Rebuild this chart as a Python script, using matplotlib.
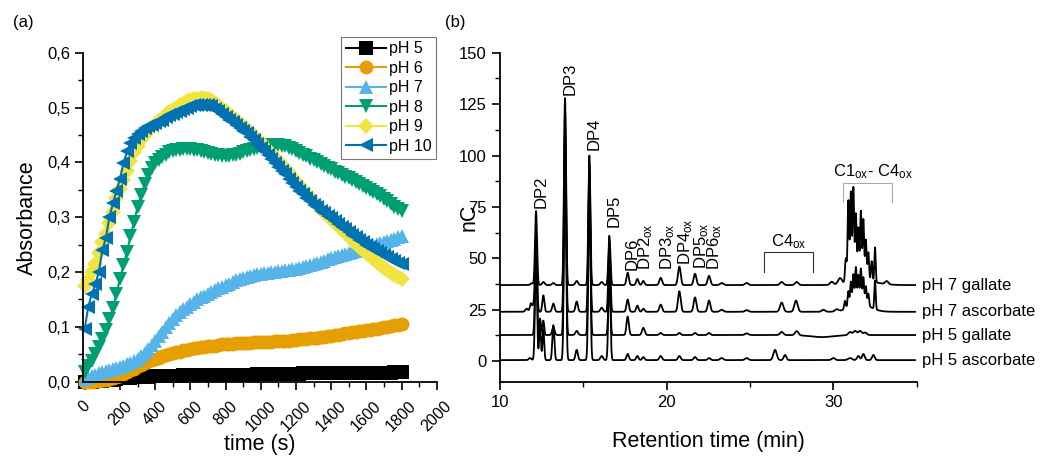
import numpy as np
import matplotlib.pyplot as plt
from matplotlib.ticker import MultipleLocator, FuncFormatter

plt.rcParams['font.family'] = ['Liberation Sans', 'DejaVu Sans']
plt.rcParams['mathtext.fontset'] = 'custom'
plt.rcParams['mathtext.rm'] = 'Liberation Sans'
plt.rcParams['mathtext.it'] = 'Liberation Sans'

# ---- panel (a): absorbance vs time, one reading every 20 s (0 .. 1800 s) ----
time_s = np.arange(0, 1801, 20)

ph5 = [0.000, 0.000, 0.000, 0.001, 0.001, 0.002, 0.003, 0.003, 0.004, 0.005,
       0.006, 0.006, 0.007, 0.007, 0.008, 0.008, 0.009, 0.009, 0.009, 0.010,
       0.010, 0.010, 0.010, 0.011, 0.011, 0.011, 0.011, 0.011, 0.012, 0.012,
       0.012, 0.012, 0.012, 0.012, 0.012, 0.012, 0.013, 0.013, 0.013, 0.013,
       0.013, 0.013, 0.013, 0.013, 0.013, 0.013, 0.013, 0.013, 0.013, 0.014,
       0.014, 0.014, 0.014, 0.014, 0.014, 0.014, 0.014, 0.014, 0.014, 0.014,
       0.014, 0.014, 0.015, 0.015, 0.015, 0.015, 0.015, 0.015, 0.015, 0.015,
       0.015, 0.015, 0.015, 0.015, 0.015, 0.016, 0.016, 0.016, 0.016, 0.016,
       0.016, 0.016, 0.016, 0.016, 0.016, 0.016, 0.016, 0.016, 0.017, 0.017,
       0.017]
ph6 = [0.000, 0.000, 0.000, 0.001, 0.002, 0.003, 0.004, 0.005, 0.007, 0.009,
       0.011, 0.014, 0.017, 0.021, 0.024, 0.028, 0.031, 0.034, 0.037, 0.040,
       0.042, 0.044, 0.046, 0.048, 0.050, 0.052, 0.054, 0.055, 0.057, 0.058,
       0.060, 0.061, 0.062, 0.063, 0.064, 0.065, 0.066, 0.066, 0.067, 0.068,
       0.068, 0.069, 0.069, 0.070, 0.070, 0.071, 0.071, 0.071, 0.072, 0.072,
       0.072, 0.073, 0.073, 0.073, 0.074, 0.074, 0.074, 0.075, 0.075, 0.076,
       0.076, 0.077, 0.078, 0.078, 0.079, 0.080, 0.080, 0.081, 0.082, 0.083,
       0.084, 0.085, 0.086, 0.087, 0.088, 0.089, 0.090, 0.091, 0.092, 0.093,
       0.094, 0.095, 0.096, 0.097, 0.098, 0.099, 0.100, 0.102, 0.103, 0.104,
       0.106]
ph7 = [0.005, 0.008, 0.011, 0.013, 0.015, 0.017, 0.019, 0.021, 0.023, 0.025,
       0.027, 0.029, 0.032, 0.035, 0.038, 0.042, 0.047, 0.053, 0.060, 0.067,
       0.075, 0.083, 0.091, 0.099, 0.107, 0.114, 0.121, 0.127, 0.132, 0.137,
       0.142, 0.146, 0.150, 0.154, 0.157, 0.160, 0.163, 0.167, 0.170, 0.173,
       0.176, 0.179, 0.182, 0.185, 0.187, 0.189, 0.191, 0.193, 0.194, 0.196,
       0.197, 0.198, 0.199, 0.200, 0.200, 0.201, 0.202, 0.203, 0.204, 0.205,
       0.206, 0.207, 0.209, 0.211, 0.213, 0.215, 0.217, 0.219, 0.221, 0.223,
       0.225, 0.227, 0.229, 0.231, 0.233, 0.235, 0.237, 0.239, 0.241, 0.243,
       0.245, 0.247, 0.249, 0.251, 0.253, 0.255, 0.257, 0.259, 0.261, 0.264,
       0.266]
ph8 = [0.018, 0.028, 0.038, 0.050, 0.063, 0.078, 0.095, 0.115, 0.135, 0.160,
       0.188, 0.212, 0.237, 0.265, 0.292, 0.318, 0.340, 0.360, 0.377, 0.390,
       0.398, 0.405, 0.410, 0.414, 0.418, 0.420, 0.422, 0.423, 0.424, 0.424,
       0.424, 0.423, 0.422, 0.421, 0.419, 0.417, 0.415, 0.414, 0.413, 0.412,
       0.412, 0.412, 0.413, 0.414, 0.416, 0.418, 0.420, 0.422, 0.424, 0.426,
       0.428, 0.429, 0.430, 0.431, 0.431, 0.431, 0.430, 0.429, 0.427, 0.424,
       0.420, 0.417, 0.414, 0.411, 0.407, 0.404, 0.400, 0.397, 0.393, 0.390,
       0.387, 0.383, 0.380, 0.377, 0.374, 0.371, 0.367, 0.364, 0.360, 0.357,
       0.353, 0.350, 0.346, 0.342, 0.338, 0.334, 0.329, 0.324, 0.319, 0.315,
       0.311]
ph9 = [0.175, 0.185, 0.200, 0.215, 0.235, 0.255, 0.270, 0.290, 0.310, 0.335,
       0.352, 0.368, 0.385, 0.402, 0.418, 0.430, 0.440, 0.450, 0.458, 0.465,
       0.470, 0.476, 0.481, 0.486, 0.491, 0.496, 0.500, 0.504, 0.507, 0.511,
       0.514, 0.515, 0.516, 0.517, 0.517, 0.516, 0.513, 0.509, 0.504, 0.498,
       0.493, 0.487, 0.482, 0.477, 0.471, 0.466, 0.461, 0.455, 0.450, 0.443,
       0.437, 0.430, 0.423, 0.417, 0.410, 0.403, 0.396, 0.390, 0.382, 0.374,
       0.366, 0.359, 0.351, 0.344, 0.337, 0.329, 0.322, 0.315, 0.308, 0.302,
       0.296, 0.290, 0.284, 0.278, 0.271, 0.265, 0.259, 0.252, 0.246, 0.240,
       0.234, 0.229, 0.223, 0.218, 0.213, 0.208, 0.203, 0.199, 0.195, 0.191,
       0.188]
ph10 = [0.097, 0.137, 0.160, 0.178, 0.200, 0.240, 0.262, 0.300, 0.325, 0.348,
        0.370, 0.398, 0.420, 0.435, 0.444, 0.452, 0.458, 0.462, 0.466, 0.469,
        0.472, 0.475, 0.478, 0.482, 0.486, 0.489, 0.491, 0.494, 0.497, 0.500,
        0.502, 0.504, 0.505, 0.505, 0.505, 0.504, 0.502, 0.498, 0.493, 0.488,
        0.483, 0.478, 0.473, 0.468, 0.463, 0.458, 0.453, 0.447, 0.440, 0.433,
        0.427, 0.420, 0.413, 0.406, 0.398, 0.391, 0.385, 0.378, 0.370, 0.362,
        0.355, 0.348, 0.342, 0.335, 0.329, 0.323, 0.318, 0.312, 0.307, 0.302,
        0.298, 0.293, 0.287, 0.283, 0.278, 0.273, 0.268, 0.264, 0.259, 0.254,
        0.250, 0.246, 0.242, 0.238, 0.234, 0.231, 0.227, 0.224, 0.220, 0.217,
        0.214]

series_labels = ['pH 5', 'pH 6', 'pH 7', 'pH 8', 'pH 9', 'pH 10']
series_colors = ['#000000', '#E69F00', '#56B4E9', '#009E73', '#F0E442', '#0072B2']
series_markers = ['s', 'o', '^', 'v', 'D', '<']

# ---- panel (b): chromatograms as peak tables (retention time, height, width) ----
g7_pos = [11.9, 12.16, 12.6, 13.2, 13.9, 14.6, 15.36, 16.1, 16.56, 17.66,
          18.24, 18.6, 19.64, 20.76, 21.7, 22.54, 23.3, 24.8, 26.9, 27.8,
          29.9, 30.4, 30.75, 30.9, 31.05, 31.2, 31.35, 31.5, 31.65, 31.8,
          31.95, 32.1, 32.3, 32.5, 33.2, 31.8]
g7_h = [0.8, 36, 1.5, 1.0, 91, 2, 63, 1.5, 24, 6,
        3, 2, 3.5, 9, 5.5, 4.5, 1, 1, 1.5, 1.5,
        1.5, 3, 12, 40, 44, 46, 33, 26, 34, 30,
        20, 14, 10, 17, 1.5, 2]
g7_w = [0.08, 0.06, 0.08, 0.08, 0.06, 0.08, 0.06, 0.08, 0.06, 0.07,
        0.07, 0.07, 0.08, 0.08, 0.08, 0.08, 0.1, 0.1, 0.1, 0.1,
        0.1, 0.12, 0.05, 0.045, 0.045, 0.045, 0.045, 0.045, 0.045, 0.045,
        0.045, 0.045, 0.045, 0.04, 0.1, 0.8]

a7_pos = [11.6, 11.85, 12.0, 12.16, 12.6, 13.2, 13.9, 14.6, 15.36, 16.1,
          16.56, 17.66, 18.24, 18.6, 19.64, 20.76, 21.7, 22.54, 23.3, 24.8,
          26.9, 27.76, 29.4, 30.2, 30.7, 30.9, 31.05, 31.2, 31.35, 31.5,
          31.65, 31.8, 31.95, 32.1, 32.5, 31.6]
a7_h = [1.5, 4, 3, 38, 8, 4, 98, 5, 72, 2,
        34, 6, 3, 1.5, 3.5, 10, 7, 5.5, 1, 0.8,
        4.5, 5.5, 1, 1, 4, 8, 12, 15, 18, 14,
        17, 13, 9, 6, 14, 4]
a7_w = [0.08, 0.06, 0.06, 0.06, 0.06, 0.07, 0.06, 0.07, 0.06, 0.08,
        0.06, 0.07, 0.07, 0.07, 0.08, 0.08, 0.08, 0.08, 0.1, 0.1,
        0.1, 0.1, 0.1, 0.1, 0.05, 0.045, 0.045, 0.045, 0.045, 0.045,
        0.045, 0.045, 0.045, 0.045, 0.04, 0.6]

g5_pos = [12.16, 12.4, 12.6, 13.2, 13.9, 14.6, 15.36, 16.56, 17.66, 18.6,
          19.64, 20.76, 21.7, 22.54, 24.8, 26.9, 27.8, 31.0, 31.3, 31.6,
          31.9, 29.3]
g5_h = [42, 8, 7, 4, 102, 2, 79, 27, 9, 3.5,
        1, 1, 1, 1, 0.8, 1.5, 2, 1.5, 2.0, 2.0,
        1.2, -1.0]
g5_w = [0.06, 0.05, 0.05, 0.07, 0.06, 0.08, 0.06, 0.06, 0.07, 0.08,
        0.08, 0.08, 0.08, 0.08, 0.1, 0.1, 0.1, 0.1, 0.1, 0.1,
        0.1, 0.7]

a5_pos = [11.8, 12.16, 12.4, 12.6, 13.2, 13.9, 14.6, 15.36, 16.1, 16.56,
          17.66, 18.24, 18.6, 19.64, 20.76, 21.7, 22.54, 23.3, 24.8, 26.5,
          27.1, 30.0, 31.0, 31.5, 31.8, 32.4]
a5_h = [1, 50, 18, 15, 17, 110, 5, 88, 2, 45,
        3, 2, 1.5, 2, 2, 1.5, 1, 1, 1, 5,
        2.5, 1, 1, 2, 3, 2.5]
a5_w = [0.08, 0.06, 0.05, 0.05, 0.06, 0.06, 0.07, 0.06, 0.08, 0.06,
        0.07, 0.07, 0.07, 0.08, 0.08, 0.08, 0.08, 0.1, 0.1, 0.1,
        0.08, 0.1, 0.12, 0.08, 0.08, 0.08]

trace_names = ['pH 7 gallate', 'pH 7 ascorbate', 'pH 5 gallate', 'pH 5 ascorbate']
trace_offsets = [37, 24, 12.7, 0.5]
trace_peaks = [(g7_pos, g7_h, g7_w), (a7_pos, a7_h, a7_w),
               (g5_pos, g5_h, g5_w), (a5_pos, a5_h, a5_w)]

peak_labels = ['DP2', 'DP3', 'DP4', 'DP5', 'DP6', r'DP2$_{\rm ox}$',
               r'DP3$_{\rm ox}$', r'DP4$_{\rm ox}$', r'DP5$_{\rm ox}$', r'DP6$_{\rm ox}$']
peak_label_x = [12.44, 14.2, 15.64, 16.84, 17.9, 18.72, 20.07, 21.12, 22.12, 22.88]
peak_label_y = [74.5, 129.6, 102.7, 65.4, 44.3, 44.3, 44.3, 46.7, 44.6, 44.3]


def chromatogram(t, offset, pos, h, w):
    y = np.full_like(t, offset)
    for p, a, s in zip(pos, h, w):
        y += a * np.exp(-0.5 * ((t - p) / s) ** 2)
    return y


fig = plt.figure(figsize=(10.43, 4.61), dpi=100)

# ---------- (a) ----------
ax1 = fig.add_axes([0.0799, 0.172, 0.3388, 0.7137])
for vals, lab, col, mk in zip([ph5, ph6, ph7, ph8, ph9, ph10], series_labels,
                              series_colors, series_markers):
    ms = 8.5 if mk == 'D' else 10
    ax1.plot(time_s, vals, color=col, marker=mk, markersize=ms, lw=1.5,
             markeredgewidth=0, label=lab, clip_on=False)

ax1.set_xlim(-8, 2000)
ax1.set_ylim(0, 0.6)
ax1.xaxis.set_major_locator(MultipleLocator(200))
ax1.xaxis.set_minor_locator(MultipleLocator(100))
ax1.yaxis.set_major_locator(MultipleLocator(0.1))
ax1.yaxis.set_minor_locator(MultipleLocator(0.05))
ax1.yaxis.set_major_formatter(FuncFormatter(lambda v, p: f'{v:.1f}'.replace('.', ',')))
ax1.set_xlabel('time (s)', fontsize=15.5)
ax1.set_ylabel('Absorbance', fontsize=15.5)
ax1.yaxis.set_label_coords(-0.128, 0.5)
ax1.xaxis.set_label_coords(0.5, -0.158)

leg = ax1.legend(loc='upper left', bbox_to_anchor=(0.7286, 1.0486), borderaxespad=0,
                 fontsize=11.5, frameon=True, fancybox=False, edgecolor='#555555',
                 handlelength=2.5, handletextpad=0.2, labelspacing=0.28,
                 borderpad=0.3, numpoints=1)
leg.get_frame().set_linewidth(0.8)

# ---------- (b) ----------
ax2 = fig.add_axes([0.4794, 0.172, 0.3995, 0.7137])
rt = np.linspace(10, 34.9, 4000)
for name, off, (pos, h, w) in zip(trace_names, trace_offsets, trace_peaks):
    ax2.plot(rt, chromatogram(rt, off, pos, h, w), color='black', lw=1.3)
    ax2.text(35.3, off, name, fontsize=12, ha='left', va='center', clip_on=False)

for lab, x, y in zip(peak_labels, peak_label_x, peak_label_y):
    ax2.text(x, y, lab, rotation=90, fontsize=12, ha='center', va='bottom')

# C4ox bracket
ax2.plot([25.84, 25.84, 28.8, 28.8], [43.5, 52.9, 52.9, 43.5], color='#333333', lw=0.8)
ax2.text(27.32, 53.8, r'C4$_{\rm ox}$', fontsize=12, ha='center', va='bottom')
# C1ox - C4ox bracket
ax2.plot([30.56, 30.56, 33.49, 33.49], [77.5, 86.5, 86.5, 77.5], color='#aaaaaa', lw=0.8)
ax2.text(32.4, 87.5, r'C1$_{\rm ox}$- C4$_{\rm ox}$', fontsize=12, ha='center', va='bottom')

ax2.set_xlim(10, 35)
ax2.set_ylim(-10, 150)
ax2.xaxis.set_major_locator(MultipleLocator(10))
ax2.xaxis.set_minor_locator(MultipleLocator(5))
ax2.yaxis.set_major_locator(MultipleLocator(25))
ax2.yaxis.set_minor_locator(MultipleLocator(12.5))
ax2.set_xlabel('Retention time (min)', fontsize=15.5)
ax2.set_ylabel('nC', fontsize=15.5)
ax2.yaxis.set_label_coords(-0.05, 0.5)
ax2.xaxis.set_label_coords(0.5, -0.15)

for ax in (ax1, ax2):
    ax.spines['top'].set_visible(False)
    ax.spines['right'].set_visible(False)
    ax.spines['left'].set_linewidth(1.3)
    ax.spines['bottom'].set_linewidth(1.3)
    ax.tick_params(which='major', direction='out', length=6, width=1.2, labelsize=12)
    ax.tick_params(which='minor', direction='out', length=3.5, width=1.0)

ax1.tick_params(axis='x', which='major', pad=6, labelsize=11.5)
for lbl in ax1.get_xticklabels():
    lbl.set_rotation(45)
    lbl.set_ha('center')

fig.text(0.0125, 0.951, '(a)', fontsize=12, va='center')
fig.text(0.4267, 0.951, '(b)', fontsize=12, va='center')

fig.savefig('out.png', dpi=100)
